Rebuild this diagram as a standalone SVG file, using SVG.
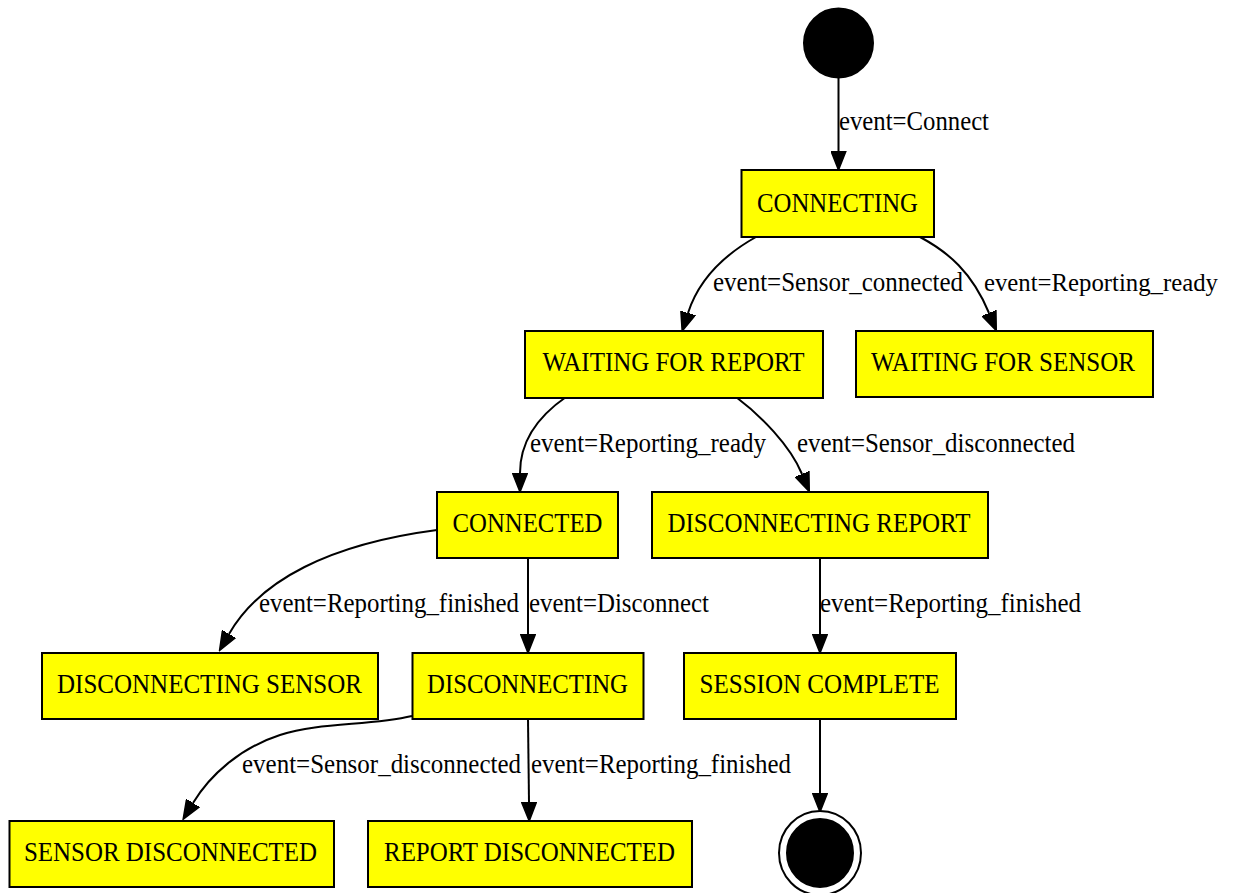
<svg xmlns="http://www.w3.org/2000/svg" width="1234" height="893" viewBox="0 0 1234 893">
<style>
.node rect{fill:#ffff00;stroke:#000;stroke-width:2}
.node text{font-family:"Liberation Serif","Times New Roman",serif;font-size:27px;text-anchor:middle;fill:#000}
.edge path{fill:none;stroke:#000;stroke-width:2;marker-end:url(#arrow)}
.lbl{font-family:"Liberation Serif","Times New Roman",serif;font-size:27px;fill:#000}
.lbl.sm{font-size:25px}
</style>
<defs>
<marker id="arrow" viewBox="0 0 20 16" refX="0" refY="8" markerWidth="20" markerHeight="16" markerUnits="userSpaceOnUse" orient="auto">
<path d="M0,0.5 L19,8 L0,15.5 z" fill="#000" stroke="#000" stroke-width="1.5"/>
</marker>
</defs>
<rect width="1234" height="893" fill="#fff"/>
<g id="edges" class="edge">
<path d="M838.5,77 L838.5,151"/>
<path d="M756,237 C722,256 698,282 688,313"/>
<path d="M920,237 C948,252 972,272 989,313"/>
<path d="M566,397 C540,415 520,440 520,473"/>
<path d="M736,397 C760,415 790,445 802,474"/>
<path d="M437,530 C330,544 260,580 229,634"/>
<path d="M528,558 L528,634"/>
<path d="M820,558 L820,634"/>
<path d="M412,716 C370,726 320,722 280,735 C240,748 210,775 193,803"/>
<path d="M528,719 L529,802"/>
<path d="M820,719 L820,793"/>
</g>
<g id="edge-labels">
<text class="lbl" x="839" y="130" textLength="150" lengthAdjust="spacingAndGlyphs">event=Connect</text>
<text class="lbl" x="713" y="291" textLength="250" lengthAdjust="spacingAndGlyphs">event=Sensor_connected</text>
<text class="lbl sm" x="984" y="291" textLength="234" lengthAdjust="spacingAndGlyphs">event=Reporting_ready</text>
<text class="lbl" x="530" y="452" textLength="236" lengthAdjust="spacingAndGlyphs">event=Reporting_ready</text>
<text class="lbl" x="797" y="452" textLength="278" lengthAdjust="spacingAndGlyphs">event=Sensor_disconnected</text>
<text class="lbl" x="259" y="612" textLength="260" lengthAdjust="spacingAndGlyphs">event=Reporting_finished</text>
<text class="lbl" x="529" y="612" textLength="180" lengthAdjust="spacingAndGlyphs">event=Disconnect</text>
<text class="lbl" x="820" y="612" textLength="261" lengthAdjust="spacingAndGlyphs">event=Reporting_finished</text>
<text class="lbl" x="242" y="773" textLength="279" lengthAdjust="spacingAndGlyphs">event=Sensor_disconnected</text>
<text class="lbl" x="531" y="773" textLength="260" lengthAdjust="spacingAndGlyphs">event=Reporting_finished</text>
</g>
<g id="start"><ellipse cx="838.5" cy="43" rx="34.5" ry="34.5" fill="#000" stroke="#000" stroke-width="2"/></g>
<g id="connecting" class="node"><rect x="741.5" y="170" width="192.5" height="67"/><text x="837.5" y="212" textLength="161" lengthAdjust="spacingAndGlyphs">CONNECTING</text></g>
<g id="waiting-for-report" class="node"><rect x="525" y="331" width="298" height="67"/><text x="673.5" y="371" textLength="262" lengthAdjust="spacingAndGlyphs">WAITING FOR REPORT</text></g>
<g id="waiting-for-sensor" class="node"><rect x="856" y="331" width="297" height="66"/><text x="1003" y="371" textLength="264" lengthAdjust="spacingAndGlyphs">WAITING FOR SENSOR</text></g>
<g id="connected" class="node"><rect x="437" y="492" width="181" height="66"/><text x="527.5" y="532" textLength="150" lengthAdjust="spacingAndGlyphs">CONNECTED</text></g>
<g id="disconnecting-report" class="node"><rect x="652" y="492" width="336" height="66"/><text x="819" y="532" textLength="303" lengthAdjust="spacingAndGlyphs">DISCONNECTING REPORT</text></g>
<g id="disconnecting-sensor" class="node"><rect x="42" y="653" width="336" height="66"/><text x="209.5" y="693" textLength="305" lengthAdjust="spacingAndGlyphs">DISCONNECTING SENSOR</text></g>
<g id="disconnecting" class="node"><rect x="412.5" y="653" width="231" height="66"/><text x="527.5" y="693" textLength="201" lengthAdjust="spacingAndGlyphs">DISCONNECTING</text></g>
<g id="session-complete" class="node"><rect x="684" y="653" width="272" height="66"/><text x="819.5" y="693" textLength="240" lengthAdjust="spacingAndGlyphs">SESSION COMPLETE</text></g>
<g id="sensor-disconnected" class="node"><rect x="9.5" y="821" width="324.5" height="66"/><text x="170.5" y="861" textLength="293" lengthAdjust="spacingAndGlyphs">SENSOR DISCONNECTED</text></g>
<g id="report-disconnected" class="node"><rect x="368" y="821" width="324" height="66"/><text x="529.5" y="861" textLength="291" lengthAdjust="spacingAndGlyphs">REPORT DISCONNECTED</text></g>
<g id="end"><ellipse cx="820" cy="853" rx="41" ry="42" fill="#fff" stroke="#000" stroke-width="2"/><ellipse cx="820" cy="853" rx="33" ry="34" fill="#000" stroke="#000" stroke-width="2"/></g>
</svg>
